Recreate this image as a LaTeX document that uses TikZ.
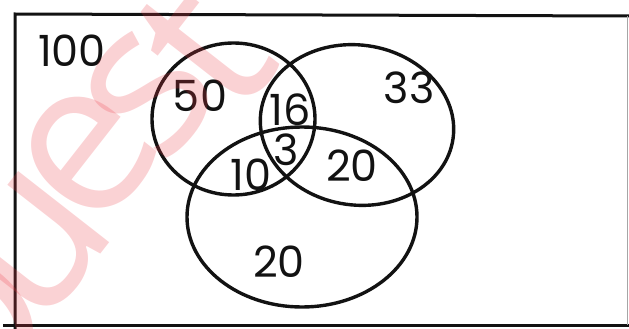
\documentclass[tikz,border=0pt]{standalone}
\usepackage{fontspec}
\setmainfont{Poppins}
\newfontfamily\wmfont{Open Sans}
\definecolor{wmred}{RGB}{235,60,70}
\definecolor{ink}{RGB}{18,18,18}
\begin{document}
\begin{tikzpicture}[x=1pt,y=-1pt,
  venn/.style={draw=ink,line width=3.4pt},
  frameline/.style={draw=ink,line width=3pt},
  wm/.style={font={\wmfont\fontsize{120}{120}\selectfont},text=wmred,text opacity=0.23,rotate=52,inner sep=0pt,scale=1.8},
  num/.style={font=\fontsize{43}{43}\selectfont,text=ink,inner sep=0pt}]
\useasboundingbox (0,0) rectangle (629,329);
% frame
\coordinate (tl) at (15,14);
\coordinate (tr) at (629,16);
\coordinate (bl) at (15,329);
\coordinate (b0) at (3,325);
\coordinate (b1) at (629,325);
\draw[frameline] (tr) -- (tl) -- (bl);
\draw[frameline] (b0) -- (b1);
\draw[draw=black!35,line width=0.8pt] (627,16) -- (627,325);
% circles
\draw[venn] (233.5,119) ellipse [x radius=81.5,y radius=76];
\draw[venn,rotate around={-8:(357,125)}] (357,125) ellipse [x radius=97,y radius=80];
\draw[venn] (302,217) ellipse [x radius=115,y radius=90];
% labels
\node[num] (n100) at (72,51) {100};
\node[num] (n50) at (200,96) {50};
\node[num] (n16) at (290,110) {16};
\node[num] (n33) at (409,88) {33};
\node[num] (n3) at (286,150) {3};
\node[num] (n10) at (251,175) {10};
\node[num] (n20r) at (352,166) {20};
\node[num] (n20b) at (279,262) {20};
% watermark
\begin{scope}
\clip (0,0) rectangle (629,329);
\node[wm] (wq) at (-32,338) {Q};
\node[wm] (wu) at (36,245) {u};
\node[wm] (we) at (88,154) {e};
\node[wm] (ws) at (150,94) {s};
\node[wm] (wt) at (205,48) {t};
\end{scope}
\end{tikzpicture}
\end{document}
